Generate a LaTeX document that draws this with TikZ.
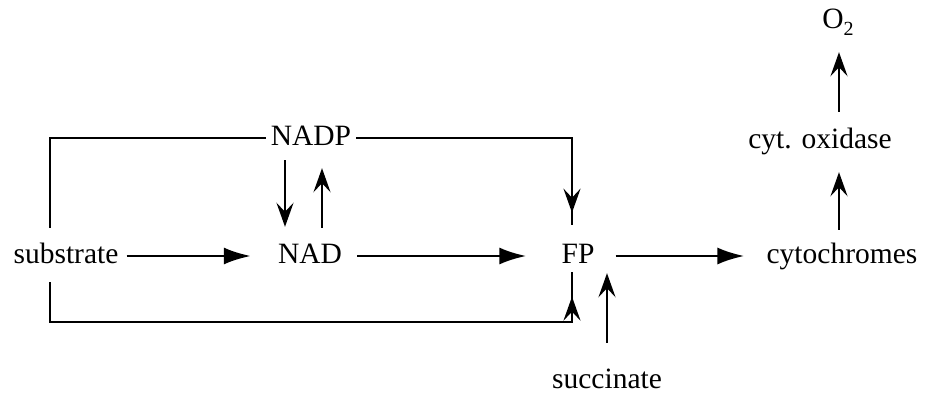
\documentclass[tikz,border=0pt]{standalone}
\usepackage{fontspec}
\setmainfont{Liberation Serif}
\usetikzlibrary{arrows.meta,decorations.markings}
\begin{document}
\begin{tikzpicture}[x=1pt,y=-1pt,
  lbl/.style={font=\fontsize{29.5}{34}\selectfont, inner sep=0pt, text height=20pt, text depth=6pt, anchor=base},
  ln/.style={line width=2.7pt},
  harrow/.style={ln, -{Latex[length=27pt,width=17pt]}},
  varrow/.style={ln, -{Stealth[length=24pt,width=17pt,inset=9pt]}},
  midtip/.style={postaction={decorate, decoration={markings, mark=at position #1 with {\arrow[line width=2.7pt]{Stealth[length=24pt,width=17pt,inset=9pt]}}}}}
]
\path[use as bounding box] (0,0) rectangle (938,396);
\node[lbl] (sub) at (66,263) {substrate};
\node[lbl] (nad) at (310,263) {NAD};
\node[lbl] (nadp) at (311,145) {NADP};
\node[lbl] (fp) at (578,263) {FP};
\node[lbl] (cyt) at (842,263) {cytochromes};
\node[lbl] (cox) at (820,148) {cyt. oxidase};
\node[lbl] (o2) at (838,29) {O\raisebox{-0.22em}{\fontsize{20}{20}\selectfont 2}};
\node[lbl] (suc) at (607,388) {succinate};
% horizontal chain
\draw[harrow] ([xshift=8pt]sub.east) -- ([xshift=-27pt]nad.west);
\draw[harrow] ([xshift=15pt]nad.east) -- ([xshift=-35pt]fp.west);
\draw[harrow] ([xshift=21pt]fp.east) -- ([xshift=-22pt]cyt.west);
% NADP <-> NAD
\draw[varrow] ([xshift=-26pt,yshift=-9pt]nadp.south) -- ([xshift=-25pt,yshift=16pt]nad.north);
\draw[varrow] ([xshift=12pt,yshift=15pt]nad.north) -- ([xshift=11pt,yshift=-17pt]nadp.south);
% top bypass
\draw[ln] ([xshift=-16pt,yshift=15pt]sub.north) |- ([xshift=-5pt]nadp.west);
\draw[ln, midtip=0.96] ([xshift=5pt]nadp.east) -| ([xshift=-6pt,yshift=18pt]fp.north);
% bottom bypass
\draw[ln, midtip=0.96] ([xshift=-16pt,yshift=-13pt]sub.south) |- (300,322) -| ([xshift=-6pt,yshift=-3pt]fp.south);
% succinate
\draw[varrow] ([yshift=25pt]suc.north) -- ([xshift=29pt,yshift=-4pt]fp.south);
% right column
\draw[varrow] ([xshift=-3pt,yshift=13pt]cyt.north) -- ([xshift=19pt,yshift=-18pt]cox.south);
\draw[varrow] ([xshift=19pt,yshift=16pt]cox.north) -- ([xshift=1pt,yshift=-17pt]o2.south);
\end{tikzpicture}
\end{document}
